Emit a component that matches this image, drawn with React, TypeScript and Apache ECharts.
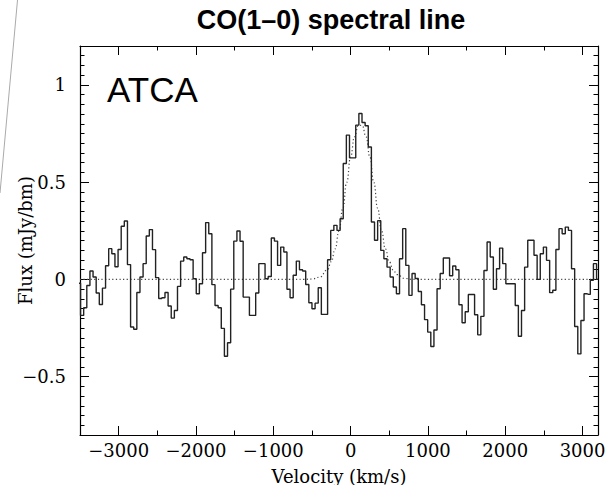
import React, { useEffect, useRef } from "react";
import * as echarts from "echarts";

// Channel fluxes (mJy/bm), one per 40.45 km/s channel
const channelFlux = [
  -0.02, -0.185, -0.146, -0.031, 0.043, 0.012, -0.07, -0.129, -0.045, 0.07,
  0.158, 0.132, 0.065, 0.154, 0.273, 0.3, 0.076, -0.245, -0.256, -0.067,
  0.012, 0.081, 0.223, 0.256, 0.153, 0.009, -0.098, -0.094, -0.067, -0.137,
  -0.199, -0.16, -0.036, 0.094, 0.115, 0.106, 0.101, 0.003, -0.074, -0.022,
  0.137, 0.292, 0.235, -0.027, -0.134, -0.146, -0.252, -0.395, -0.326, -0.05,
  0.197, 0.249, 0.196, -0.091, -0.091, -0.185, -0.185, -0.07, 0.081, 0.081,
  0.003, 0.015, 0.213, 0.197, 0.072, 0.166, 0.141, -0.051, -0.094, 0.021,
  0.094, 0.05, 0.043, -0.026, -0.12, -0.151, -0.122, -0.043, -0.18, -0.18,
  0.101, 0.252, 0.278, 0.252, 0.312, 0.596, 0.742, 0.625, 0.625, 0.793,
  0.853, 0.807, 0.79, 0.681, 0.295, 0.201, 0.302, 0.149, 0.106, 0.063,
  0.012, -0.039, -0.074, 0.106, 0.261, 0.072, -0.082, 0.03, 0.005, -0.062,
  -0.13, -0.207, -0.271, -0.345, -0.26, -0.048, 0.03, 0.11, 0.11, 0.019,
  0.069, 0.05, -0.13, -0.223, -0.166, -0.078, -0.078, -0.182, -0.285, -0.19,
  0.046, 0.192, 0.115, -0.051, 0.055, 0.161, 0.081, -0.022, -0.022, -0.022,
  -0.134, -0.292, -0.16, 0.063, 0.201, 0.201, 0.124, 0.0, 0.132, 0.166,
  0.098, -0.068, -0.056, 0.154, 0.261, 0.235, 0.269, 0.252, 0.055, -0.242,
  -0.383, -0.211, -0.074, -0.077, -0.005, 0.081, 0.0,
];
// Channel grid: centre of first channel and channel width (km/s)
const FIRST_CHANNEL_VELOCITY = -3513.2;
const CHANNEL_WIDTH = 40.45;

// Gaussian fit (dotted)
const fitVelocity = [
  -3500, -800, -600, -500, -400, -300, -250, -200, -150, -100, -50, 0, 50,
  100, 150, 200, 250, 300, 350, 400, 450, 500, 550, 600, 700, 800, 3200,
];
const fitFlux = [
  0, 0, 0, 0.002, 0.011, 0.049, 0.091, 0.157, 0.249, 0.366, 0.499, 0.629,
  0.733, 0.792, 0.792, 0.733, 0.629, 0.499, 0.366, 0.249, 0.157, 0.091, 0.049,
  0.025, 0.005, 0, 0,
];

const xMajorTicks = [-3000, -2000, -1000, 0, 1000, 2000, 3000];
const yMajorTicks = [-0.5, 0, 0.5, 1];
const X_MIN = -3500;
const X_MAX = 3200;
const Y_MIN = -0.8;
const Y_MAX = 1.2;

const serif = "DejaVu Serif";
const minus = (v: number) => String(v).replace("-", "\u2212");

export default function App() {
  const ref = useRef<HTMLDivElement>(null);
  useEffect(() => {
    if (!ref.current) return;
    const chart = echarts.init(ref.current, undefined, { renderer: "svg" });
    const axisLineStyle = { color: "#000", width: 1.2 };
    const tickStyle = { color: "#000", width: 1 };

    const xBase = (position: string) => ({
      type: "value",
      min: X_MIN,
      max: X_MAX,
      position,
      splitLine: { show: false },
      nameMoveOverlap: false,
    });
    const yBase = (position: string) => ({
      type: "value",
      min: Y_MIN,
      max: Y_MAX,
      position,
      splitLine: { show: false },
      nameMoveOverlap: false,
    });
    const hiddenLine = { show: false, onZero: false };
    const shownLine = { show: true, onZero: false, lineStyle: axisLineStyle };

    const stepData = channelFlux.map((f, i) => [
      FIRST_CHANNEL_VELOCITY + CHANNEL_WIDTH * i,
      f,
    ]);
    const fitData = fitVelocity.map((v, i) => [v, fitFlux[i]]);

    chart.setOption({
      animation: false,
      backgroundColor: "#fff",
      grid: {
        left: 80,
        right: 10,
        top: 46,
        bottom: 50,
        containLabel: false,
        outerBoundsMode: "none",
      },
      xAxis: [
        {
          ...xBase("bottom"),
          axisLine: shownLine,
          axisTick: {
            show: true,
            inside: true,
            length: 9,
            customValues: xMajorTicks,
            lineStyle: tickStyle,
          },
          axisLabel: {
            customValues: xMajorTicks,
            formatter: minus,
            fontFamily: serif,
            fontSize: 18,
            color: "#000",
            margin: 6,
          },
          name: "Velocity (km/s)",
          nameLocation: "middle",
          nameGap: 32,
          nameTextStyle: { fontFamily: serif, fontSize: 18, color: "#000" },
        },
        {
          ...xBase("bottom"),
          interval: 500,
          axisLine: hiddenLine,
          axisTick: { show: true, inside: true, length: 4.5, lineStyle: tickStyle },
          axisLabel: { show: false },
        },
        {
          ...xBase("top"),
          axisLine: shownLine,
          axisTick: {
            show: true,
            inside: true,
            length: 9,
            customValues: xMajorTicks,
            lineStyle: tickStyle,
          },
          axisLabel: { show: false },
        },
        {
          ...xBase("top"),
          interval: 500,
          axisLine: hiddenLine,
          axisTick: { show: true, inside: true, length: 4.5, lineStyle: tickStyle },
          axisLabel: { show: false },
        },
      ],
      yAxis: [
        {
          ...yBase("left"),
          axisLine: shownLine,
          axisTick: {
            show: true,
            inside: true,
            length: 9,
            customValues: yMajorTicks,
            lineStyle: tickStyle,
          },
          axisLabel: {
            customValues: yMajorTicks,
            formatter: minus,
            fontFamily: serif,
            fontSize: 18,
            color: "#000",
            margin: 14,
          },
          name: "Flux (mJy/bm)",
          nameLocation: "middle",
          nameRotate: 90,
          nameGap: 46,
          nameTextStyle: { fontFamily: serif, fontSize: 18, color: "#000" },
        },
        {
          ...yBase("left"),
          interval: 0.05,
          axisLine: hiddenLine,
          axisTick: { show: true, inside: true, length: 4.5, lineStyle: tickStyle },
          axisLabel: { show: false },
        },
        {
          ...yBase("right"),
          axisLine: shownLine,
          axisTick: {
            show: true,
            inside: true,
            length: 9,
            customValues: yMajorTicks,
            lineStyle: tickStyle,
          },
          axisLabel: { show: false },
        },
        {
          ...yBase("right"),
          interval: 0.05,
          axisLine: hiddenLine,
          axisTick: { show: true, inside: true, length: 4.5, lineStyle: tickStyle },
          axisLabel: { show: false },
        },
      ],
      series: [
        {
          type: "line",
          name: "fit",
          xAxisIndex: 0,
          yAxisIndex: 0,
          data: fitData,
          smooth: 0.5,
          smoothMonotone: "x",
          showSymbol: false,
          lineStyle: { color: "#444", width: 1.2, type: [1.2, 2.4] },
          z: 2,
        },
        {
          type: "line",
          name: "spectrum",
          xAxisIndex: 0,
          yAxisIndex: 0,
          data: stepData,
          step: "middle",
          showSymbol: false,
          clip: true,
          lineStyle: { color: "#222", width: 1.4 },
          z: 3,
        },
      ],
      graphic: [
        {
          type: "text",
          x: 331,
          y: 20,
          style: {
            text: "CO(1\u20130) spectral line",
            fontFamily: "Liberation Sans",
            fontWeight: "bold",
            fontSize: 27,
            fill: "#000",
            textAlign: "center",
            textVerticalAlign: "middle",
          },
        },
        {
          type: "text",
          x: 107,
          y: 89,
          style: {
            text: "ATCA",
            fontFamily: "Liberation Sans",
            fontSize: 35,
            fill: "#000",
            textAlign: "left",
            textVerticalAlign: "middle",
          },
          z: 10,
        },
        {
          type: "line",
          shape: { x1: 17.5, y1: 0, x2: 0, y2: 193 },
          style: { stroke: "#aaa", lineWidth: 1 },
        },
      ],
    });
    return () => chart.dispose();
  }, []);
  return (
    <div
      ref={ref}
      style={{ position: "fixed", left: 0, top: 0, width: 608, height: 485 }}
    />
  );
}
